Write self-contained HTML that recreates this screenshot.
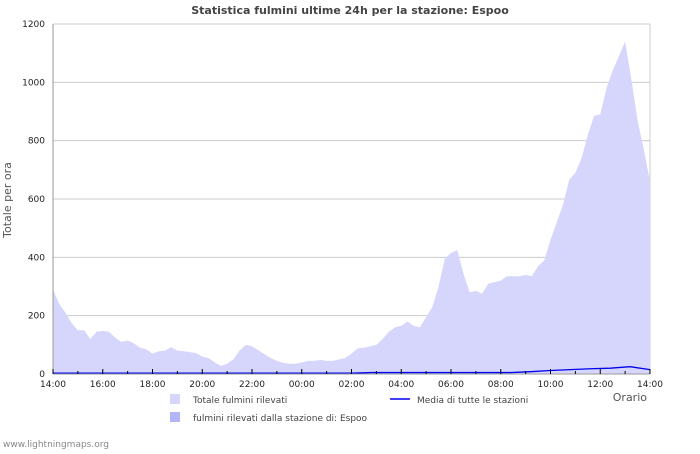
<!DOCTYPE html>
<html><head><meta charset="utf-8"><style>
body{margin:0;background:#fff;font-family:"DejaVu Sans","Liberation Sans",sans-serif;}
svg text{font-family:"DejaVu Sans","Liberation Sans",sans-serif;}
</style></head><body>
<svg id="c" width="700" height="450">
<text x="350" y="14" text-anchor="middle" font-size="11" font-weight="bold" fill="#444">Statistica fulmini ultime 24h per la stazione: Espoo</text>
<text x="11" y="200" text-anchor="middle" font-size="11" fill="#555" transform="rotate(-90 11 200)">Totale per ora</text>
<text x="647" y="401" text-anchor="end" font-size="11" fill="#555">Orario</text>
<text x="3" y="447" font-size="9" fill="#888">www.lightningmaps.org</text>
<g id="grid"></g><g id="marks"></g><g id="axes"></g>
<g>
<rect x="170" y="394" width="10" height="10" fill="#d6d6fc"/>
<text x="193" y="403" font-size="9" fill="#444">Totale fulmini rilevati</text>
<rect x="170" y="412" width="10" height="10" fill="#b4b4f8"/>
<text x="193" y="421" font-size="9" fill="#444">fulmini rilevati dalla stazione di: Espoo</text>
<line x1="390" y1="399" x2="410" y2="399" stroke="#0000ee" stroke-width="1.5"/>
<text x="417" y="403" font-size="9" fill="#444">Media di tutte le stazioni</text>
</g>
</svg>
<script>
const totals=[290,240,210,175,150,150,120,145,148,145,125,110,115,105,90,85,70,78,80,92,80,78,75,72,60,55,40,28,35,50,80,100,95,82,68,55,45,38,35,35,40,45,45,48,45,45,50,55,70,88,90,95,100,120,145,160,165,180,165,160,195,230,300,395,415,425,345,280,285,275,310,315,320,335,335,335,340,335,370,390,460,520,580,665,690,740,820,885,890,980,1040,1090,1140,1010,870,770,660];
const station=new Array(97).fill(0);
const average=[3,3,3,3,3,3,3,3,3,3,3,3,3,3,3,3,5,5,5,5,5,5,5,5,8,12,15,18,20,25,15];
const yTicks=[0,200,400,600,800,1000,1200];
const xLabels=["14:00","16:00","18:00","20:00","22:00","00:00","02:00","04:00","06:00","08:00","10:00","12:00","14:00"];
const X0=53,X1=650,Y0=374,Y1=24;
const xs=i=>X0+(X1-X0)*i/(totals.length-1);
const ys=v=>Y0-(Y0-Y1)*v/1200;
const NS="http://www.w3.org/2000/svg";
function mk(tag,attrs,parent){const e=document.createElementNS(NS,tag);for(const k in attrs)e.setAttribute(k,attrs[k]);document.getElementById(parent).appendChild(e);return e;}
yTicks.forEach(v=>{
const g=mk("line",{x1:X0,x2:X1,y1:ys(v),y2:ys(v),stroke:"#ccc","stroke-width":1},"grid");


const t=mk("text",{x:X0-8,y:ys(v)+3,"text-anchor":"end","font-size":9,fill:"#222"},"axes");
t.textContent=v;


});
const rb=mk("line",{x1:X1,x2:X1,y1:Y1,y2:Y0,stroke:"#ccc"},"grid");


function areaPath(arr){let d="M"+xs(0)+","+Y0;arr.forEach((v,i)=>{d+=" L"+xs(i)+","+ys(v);});d+=" L"+xs(arr.length-1)+","+Y0+" Z";return d;}
const a=mk("path",{d:areaPath(totals),fill:"#d6d6fc"},"marks");


const s=mk("path",{d:areaPath(station),fill:"#b4b4f8"},"marks");


const ax=i=>X0+(X1-X0)*i/(average.length-1);
let d="";average.forEach((v,i)=>{d+=(i?" L":"M")+ax(i)+","+ys(v);});
const l=mk("path",{d:d,fill:"none",stroke:"#0000ee","stroke-width":1.3},"marks");


const al=mk("line",{x1:X0,x2:X0,y1:Y1,y2:Y0,stroke:"#999"},"axes");


const bl=mk("line",{x1:X0,x2:X1,y1:Y0,y2:Y0,stroke:"#999"},"axes");


for(let h=0;h<=24;h++){const x=X0+(X1-X0)*h/24;
const tk=mk("line",{x1:x,x2:x,y1:Y0,y2:Y0-(h%2?3:5),stroke:"#000"},"axes");

}
xLabels.forEach((lab,i)=>{const x=X0+(X1-X0)*i/(xLabels.length-1);
const t=mk("text",{x:x,y:Y0+13,"text-anchor":"middle","font-size":9,fill:"#222"},"axes");
t.textContent=lab;

});
</script>
</body></html>
